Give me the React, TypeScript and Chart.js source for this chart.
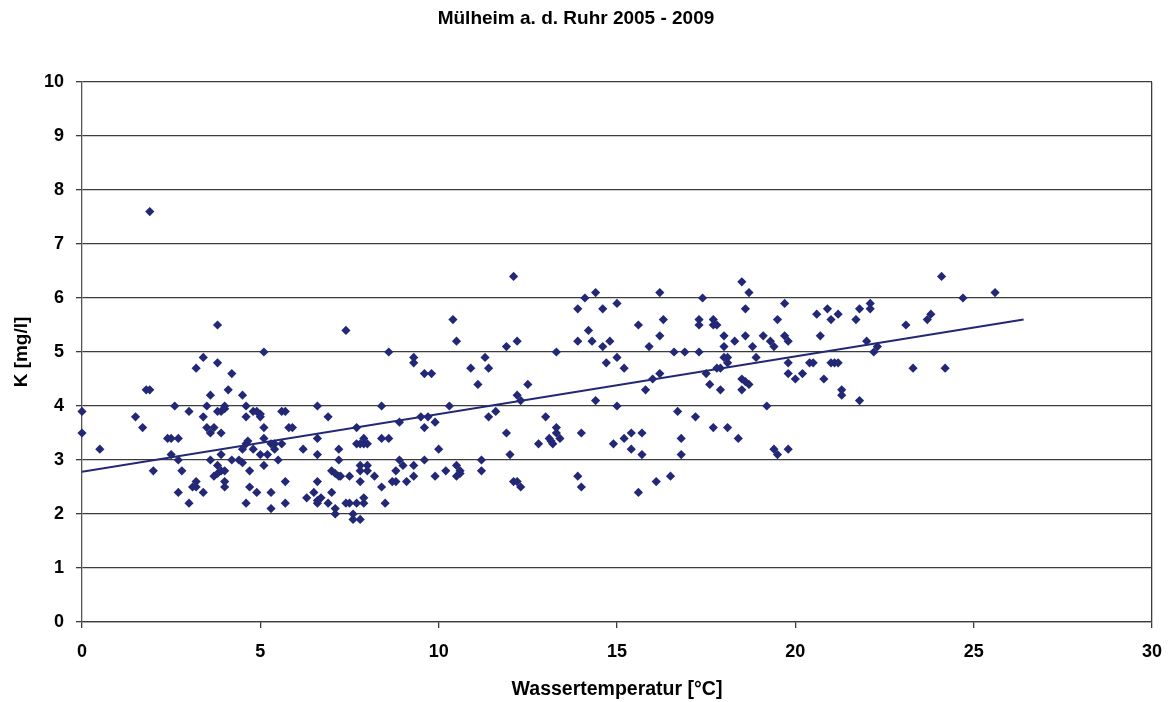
import { useEffect, useRef } from 'react';
import { Chart, registerables } from 'chart.js';

Chart.register(...registerables);

// Wassertemperatur [°C]
const tempC = [
  3.8, 3.4, 3.8, 3.2, 4.2, 1.8, 1.9, 4.1, 3.6, 4.5, 2.6, 3.5, 4.0, 4.6, 0.0, 3.0, 3.8, 3.9, 4.0, 1.5,
  3.4, 4.6, 1.7, 3.5, 3.7, 3.6, 3.9, 0.0, 2.4, 2.5, 2.7, 4.6, 4.65, 4.5, 0.5, 2.5, 3.9, 2.7, 3.6, 4.2,
  4.4, 4.5, 3.8, 3.9, 3.8, 4.0, 2.0, 2.8, 4.7, 3.7, 4.0, 3.2, 3.1, 3.2, 4.0, 4.7, 2.7, 3.4, 3.0, 4.6,
  1.9,
  7.4, 5.1, 8.6, 9.3, 9.3, 4.8, 4.9, 5.0, 5.0, 5.1, 5.1, 5.6, 5.7, 5.8, 5.9, 6.6, 6.9, 8.4, 8.9, 7.7,
  5.4, 5.3, 5.4, 5.6, 4.8, 5.0, 5.2, 5.5, 6.2, 6.6, 6.6, 7.2, 7.2, 7.7, 7.8, 7.9, 8.0, 7.9, 8.4, 8.6,
  5.1, 5.7, 4.9, 5.3, 5.3, 5.7, 6.3, 6.5, 6.7, 6.6, 6.6, 6.6, 6.9, 7.0, 7.0, 7.1, 7.2, 7.25, 7.1, 7.1,
  7.4, 7.5, 7.7, 7.5, 7.6, 7.6, 7.8, 7.8, 7.8, 7.8, 8.0, 8.0, 7.9, 7.9, 8.2, 8.4, 8.5, 8.7, 8.8, 8.8,
  8.9, 9.0, 9.1, 9.3, 9.3,
  12.1, 14.1, 13.9, 10.4, 14.2, 10.5, 12.2, 13.9, 11.9, 13.3, 11.3, 10.9, 11.4, 9.6, 9.8, 11.1, 12.5, 12.2, 12.3, 10.3,
  9.5, 9.7, 9.6, 9.9, 11.4, 11.6, 13.0, 13.3, 13.3, 13.4, 11.9, 14.0, 12.8, 13.1, 13.15, 13.2, 10.0, 12.0, 9.6, 11.2,
  10.2, 10.5, 10.6, 10.5, 10.6, 11.2, 9.9, 12.1, 12.2, 12.3, 13.9, 14.0,
  18.5, 14.4, 16.2, 18.7, 17.4, 14.6, 15.0, 18.6, 15.6, 16.3, 17.3, 17.3, 17.7, 17.7, 17.8, 14.3, 14.8, 14.6, 16.2, 15.9,
  18.0, 18.3, 18.6, 18.0, 18.8, 16.6, 16.9, 17.3, 15.0, 18.0, 18.1, 18.9, 14.7, 18.1, 15.2, 17.8, 17.9, 16.2, 16.0, 17.5,
  17.6, 18.5, 18.6, 18.7, 15.8, 17.9, 18.5, 14.4, 15.0, 16.7, 17.2, 17.7, 18.1, 18.4, 15.4, 15.7, 15.2, 14.9, 15.4, 16.8,
  15.7, 16.8, 15.6, 16.1, 16.5,
  19.7, 19.5, 20.6, 20.9, 21.0, 21.2, 21.8, 21.7, 22.1, 22.1, 23.1, 19.1, 19.3, 19.4, 19.7, 19.8, 20.7, 22.0, 22.3, 22.2,
  19.8, 19.8, 20.4, 20.5, 21.0, 21.1, 21.2, 20.2, 20.0, 20.8, 23.3, 21.3, 21.3, 21.8, 19.2, 19.4, 19.5, 19.8,
  24.1, 24.7, 25.6, 23.7, 23.8, 24.2,
];

// K [mg/l]
const kMgL = [
  5.5, 4.9, 4.8, 4.7, 4.6, 4.3, 4.3, 4.3, 4.2, 4.2, 4.0, 4.0, 4.0, 4.0, 3.9, 3.9, 3.9, 3.9, 3.95, 3.8,
  3.8, 3.8, 3.6, 3.6, 3.6, 3.5, 3.5, 3.5, 3.4, 3.4, 3.4, 3.3, 3.35, 3.2, 3.2, 3.1, 3.1, 3.0, 3.0, 3.0,
  3.0, 2.95, 2.9, 2.8, 2.75, 2.8, 2.8, 2.8, 2.8, 2.7, 2.6, 2.6, 2.5, 2.5, 2.5, 2.5, 2.4, 2.4, 2.2, 2.2,
  7.6,
  5.4, 5.0, 5.0, 4.9, 4.8, 3.9, 3.9, 3.85, 3.8, 3.6, 3.4, 3.9, 3.9, 3.6, 3.6, 4.0, 3.8, 4.0, 3.7, 3.6,
  3.3, 3.3, 3.2, 3.3, 3.2, 3.1, 3.1, 3.0, 3.2, 3.4, 3.1, 3.2, 3.0, 3.3, 3.3, 3.4, 3.3, 3.3, 3.4, 3.4,
  2.9, 2.6, 2.4, 2.4, 2.1, 2.2, 2.3, 2.4, 2.3, 2.25, 2.2, 2.6, 2.2, 2.4, 2.8, 2.75, 2.7, 2.7, 2.1, 2.0,
  2.2, 2.2, 2.2, 2.7, 2.0, 1.9, 1.9, 2.9, 2.8, 2.6, 2.9, 2.8, 2.3, 2.2, 2.7, 2.5, 2.2, 2.6, 2.6, 2.8,
  3.0, 2.9, 2.6, 2.9, 2.7,
  6.4, 6.0, 5.8, 5.6, 5.4, 5.2, 5.2, 5.2, 5.1, 5.0, 4.9, 4.7, 4.7, 4.6, 4.6, 4.4, 4.4, 4.2, 4.1, 4.0,
  3.8, 3.8, 3.6, 3.7, 3.8, 3.9, 3.8, 3.6, 3.5, 3.4, 3.5, 3.5, 3.3, 3.4, 3.35, 3.3, 3.2, 3.1, 3.0, 3.0,
  2.8, 2.9, 2.8, 2.7, 2.75, 2.8, 2.7, 2.6, 2.6, 2.5, 2.7, 2.5,
  6.3, 6.1, 6.1, 6.1, 6.0, 5.8, 5.9, 5.8, 5.5, 5.6, 5.6, 5.5, 5.6, 5.5, 5.5, 5.2, 5.2, 5.1, 5.3, 5.1,
  5.3, 5.2, 5.3, 5.1, 5.1, 5.0, 5.0, 5.0, 4.9, 4.9, 4.9, 4.9, 4.8, 4.8, 4.7, 4.7, 4.7, 4.6, 4.5, 4.6,
  4.4, 4.5, 4.45, 4.4, 4.3, 4.3, 4.3, 4.1, 4.0, 3.9, 3.8, 3.6, 3.6, 3.4, 3.5, 3.5, 3.4, 3.3, 3.2, 3.4,
  3.1, 3.1, 2.4, 2.6, 2.7,
  5.9, 5.6, 5.7, 5.8, 5.6, 5.7, 5.8, 5.6, 5.9, 5.8, 5.5, 5.3, 5.2, 5.1, 5.3, 5.2, 5.3, 5.2, 5.1, 5.0,
  4.8, 4.6, 4.8, 4.8, 4.8, 4.8, 4.8, 4.6, 4.5, 4.5, 4.7, 4.3, 4.2, 4.1, 4.0, 3.2, 3.1, 3.2,
  6.4, 6.0, 6.1, 5.6, 5.7, 4.7,
];

// linear trend line, end points
const trendX = [0, 26.4];
const trendY = [2.78, 5.6];

const xTicks = [0, 5, 10, 15, 20, 25, 30];
const yTicks = [0, 1, 2, 3, 4, 5, 6, 7, 8, 9, 10];

const navy = '#232876';
const gridColor = '#3c3c3c';
const fontFamily = '"Liberation Sans", Arial, sans-serif';

export default function App() {
  const canvasRef = useRef<HTMLCanvasElement>(null);
  const chartRef = useRef<Chart | null>(null);

  useEffect(() => {
    if (!canvasRef.current) return;
    if (chartRef.current) chartRef.current.destroy();

    const points = tempC.map((x, i) => ({ x, y: kMgL[i] }));
    const trend = trendX.map((x, i) => ({ x, y: trendY[i] }));

    chartRef.current = new Chart(canvasRef.current, {
      type: 'scatter',
      data: {
        datasets: [
          {
            label: 'K',
            data: points,
            pointStyle: 'rectRot',
            pointRadius: 4.6,
            pointHoverRadius: 4.6,
            backgroundColor: navy,
            borderColor: navy,
            borderWidth: 0,
            clip: false,
          },
          {
            label: 'Trend',
            data: trend,
            showLine: true,
            borderColor: navy,
            borderWidth: 2,
            pointRadius: 0,
          },
        ],
      },
      options: {
        animation: false,
        responsive: true,
        maintainAspectRatio: false,
        layout: { padding: { left: 0, right: 20, top: 0, bottom: 0 } },
        plugins: {
          legend: { display: false },
          tooltip: { enabled: false },
          title: {
            display: true,
            text: 'Mülheim a. d. Ruhr 2005 - 2009',
            color: '#000',
            font: { family: fontFamily, size: 19, weight: 'bold' },
            padding: { top: 7, bottom: 52.2 },
          },
        },
        scales: {
          x: {
            type: 'linear',
            min: 0,
            max: 30,
            afterBuildTicks: (scale: any) => {
              scale.ticks = xTicks.map((v) => ({ value: v }));
            },
            afterFit: (scale: any) => {
              scale.height = 80;
              scale.paddingLeft = 0;
              scale.paddingRight = 0;
            },
            ticks: {
              color: '#000',
              padding: 13,
              font: { family: fontFamily, size: 18, weight: 'bold' },
            },
            grid: {
              drawOnChartArea: true,
              tickLength: 6,
              lineWidth: 1.3,
              color: (ctx: any) => (ctx.tick && ctx.tick.value === 30 ? gridColor : 'rgba(0,0,0,0)'),
              tickColor: gridColor,
            },
            border: { display: true, color: gridColor, width: 1.3 },
            title: {
              display: true,
              text: 'Wassertemperatur [°C]',
              color: '#000',
              font: { family: fontFamily, size: 19.5, weight: 'bold' },
              padding: { top: 0, bottom: 1 },
            },
          },
          y: {
            type: 'linear',
            min: 0,
            max: 10,
            afterBuildTicks: (scale: any) => {
              scale.ticks = yTicks.map((v) => ({ value: v }));
            },
            afterFit: (scale: any) => {
              scale.width = 82;
            },
            ticks: {
              color: '#000',
              padding: 12,
              font: { family: fontFamily, size: 18, weight: 'bold' },
            },
            grid: {
              tickLength: 6,
              lineWidth: 1.3,
              color: gridColor,
            },
            border: { display: true, color: '#555', width: 1.3 },
            title: {
              display: true,
              text: 'K [mg/l]',
              color: '#000',
              font: { family: fontFamily, size: 19, weight: 'bold' },
              padding: { top: 10, bottom: 0 },
            },
          },
        },
      },
    });

    return () => {
      if (chartRef.current) {
        chartRef.current.destroy();
        chartRef.current = null;
      }
    };
  }, []);

  return (
    <div style={{ position: 'fixed', left: 0, top: 0, width: 1172, height: 702, background: '#fff' }}>
      <canvas ref={canvasRef} />
    </div>
  );
}
